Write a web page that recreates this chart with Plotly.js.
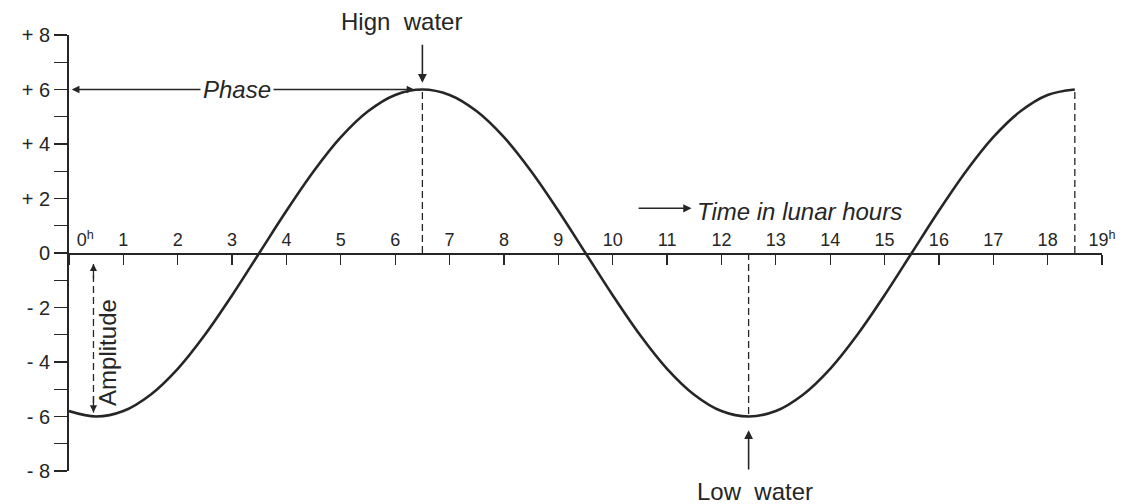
<!DOCTYPE html>
<html>
<head>
<meta charset="utf-8">
<script src="https://cdn.plot.ly/plotly-3.0.1.min.js"></script>
<style>
  html, body { margin: 0; padding: 0; background: #fff; }
  #chart { width: 1132px; height: 504px; }
</style>
</head>
<body>
<div id="chart"></div>
<script>
// Tide height against time in lunar hours, read at half-hour steps
const hours = [0, 0.5, 1, 1.5, 2, 2.5, 3, 3.5, 4, 4.5, 5, 5.5, 6, 6.5, 7, 7.5, 8, 8.5, 9, 9.5,
               10, 10.5, 11, 11.5, 12, 12.5, 13, 13.5, 14, 14.5, 15, 15.5, 16, 16.5, 17, 17.5, 18, 18.5];
const height = [-5.8, -6.0, -5.8, -5.2, -4.25, -3.0, -1.55, 0, 1.55, 3.0, 4.25, 5.2, 5.8, 6.0, 5.8, 5.2, 4.25, 3.0, 1.55, 0,
                -1.55, -3.0, -4.25, -5.2, -5.8, -6.0, -5.8, -5.2, -4.25, -3.0, -1.55, 0, 1.55, 3.0, 4.25, 5.2, 5.8, 6.0];

// Turning points of the tide: high water, low water, next high water
const turnTimes = [6.5, 12.5, 18.5];
const turnHeights = [6.0, -6.0, 6.0];

// First low water, where the amplitude is measured
const amplitudeTime = 0.45;
const amplitudeHeight = -6.0;

const xTickVals = [0, 1, 2, 3, 4, 5, 6, 7, 8, 9, 10, 11, 12, 13, 14, 15, 16, 17, 18, 19];
const xTickText = ['0<sup>h</sup>', '1', '2', '3', '4', '5', '6', '7', '8', '9',
                   '10', '11', '12', '13', '14', '15', '16', '17', '18', '19<sup>h</sup>'];
const yTickVals = [-8, -6, -4, -2, 0, 2, 4, 6, 8];
const yTickText = ['- 8', '- 6', '- 4', '- 2', '0', '+ 2', '+ 4', '+ 6', '+ 8'];

const ink = '#262626';
const face = 'Liberation Sans, Arial, sans-serif';
const tickFont = { family: face, size: 18, color: ink };
const noteFont = { family: face, size: 24, color: ink };

// The origin label sits just right of the height axis instead of on it
const xLabelVals = xTickVals.map(v => (v === 0 ? v + 0.3 : v));

const curve = {
  x: hours, y: height,
  type: 'scatter', mode: 'lines',
  line: { color: ink, width: 2.6, shape: 'spline', smoothing: 1 },
  cliponaxis: false, hoverinfo: 'skip', showlegend: false
};

// Carrier for the labelled copy of the time axis (draws nothing)
const labelCarrier = {
  x: [xTickVals[0], xTickVals[xTickVals.length - 1]], y: [0, 0],
  xaxis: 'x2', yaxis: 'y', type: 'scatter', mode: 'none',
  hoverinfo: 'skip', showlegend: false
};

// Dashed drop lines from each turning point to the time axis
const shapes = turnTimes.map((t, i) => ({
  type: 'line', xref: 'x', yref: 'y',
  x0: t, x1: t, y0: 0, y1: turnHeights[i],
  line: { color: ink, width: 1.3, dash: '7px,4px' }
}));
shapes.push({
  type: 'line', xref: 'x', yref: 'y',
  x0: amplitudeTime, x1: amplitudeTime, y0: -0.4, y1: amplitudeHeight + 0.15,
  line: { color: ink, width: 1.3, dash: '7px,4px' }
});

function arrow(x, y, ax, ay, extra) {
  return Object.assign({
    x: x, y: y, ax: ax, ay: ay, xref: 'x', yref: 'y', axref: 'x', ayref: 'y',
    text: '', showarrow: true, arrowhead: 2, arrowsize: 1.1, arrowwidth: 1.6, arrowcolor: ink
  }, extra || {});
}

const annotations = [
  // Phase: from the time origin to the first high water
  arrow(0.05, turnHeights[0], turnTimes[0] - 0.12, turnHeights[0], { arrowside: 'end+start', arrowwidth: 1.4 }),
  { x: 3.09, y: turnHeights[0], xref: 'x', yref: 'y', text: '<i>Phase</i>', showarrow: false,
    bgcolor: '#ffffff', borderpad: 2, font: noteFont },

  // High water
  arrow(turnTimes[0], turnHeights[0] + 0.25, turnTimes[0], 7.7),
  { x: 6.12, y: 1.03, xref: 'x', yref: 'paper', yanchor: 'middle',
    text: 'Hign  water', showarrow: false, font: noteFont },

  // Low water
  arrow(turnTimes[1], turnHeights[1] - 0.5, turnTimes[1], -8.0),
  { x: 12.62, y: -0.046, xref: 'x', yref: 'paper', yanchor: 'middle',
    text: 'Low  water', showarrow: false, font: noteFont },

  // Time axis caption
  arrow(11.45, 1.64, 10.45, 1.64, { arrowwidth: 1.5 }),
  { x: 11.52, y: 1.52, xref: 'x', yref: 'y', xanchor: 'left', text: '<i>Time in lunar hours</i>',
    showarrow: false, font: noteFont },

  // Amplitude: double-headed arrow from mean level down to low water
  arrow(amplitudeTime, -0.4, amplitudeTime, -1.0, { arrowwidth: 1.3 }),
  arrow(amplitudeTime, amplitudeHeight + 0.15, amplitudeTime, -5.2, { arrowwidth: 1.3 }),
  { x: 0.72, y: -3.66, xref: 'x', yref: 'y', text: 'Amplitude', textangle: -90, showarrow: false, font: noteFont }
];

const layout = {
  width: 1132, height: 504,
  margin: { l: 69, r: 30, t: 35, b: 33, pad: 0 },
  paper_bgcolor: '#ffffff', plot_bgcolor: '#ffffff',
  font: tickFont,
  showlegend: false,
  // Time axis drawn through zero: line and downward ticks
  xaxis: {
    range: [0, 19], anchor: 'free', position: 0.5, side: 'bottom',
    showline: true, linecolor: ink, linewidth: 1.8,
    showgrid: false, zeroline: false,
    tickmode: 'array', tickvals: xTickVals,
    ticks: 'outside', ticklen: 10, tickwidth: 1.3, tickcolor: ink,
    showticklabels: false,
    fixedrange: true
  },
  // Same time axis, carrying the hour labels above the line
  xaxis2: {
    range: [0, 19], overlaying: 'x', anchor: 'free', position: 0.5, side: 'top',
    showline: false, showgrid: false, zeroline: false,
    tickmode: 'array', tickvals: xLabelVals, ticktext: xTickText,
    ticks: '', ticklabelstandoff: 3,
    tickfont: tickFont,
    fixedrange: true
  },
  yaxis: {
    range: [-8, 8],
    showline: true, linecolor: ink, linewidth: 1.8,
    showgrid: false, zeroline: false,
    tickmode: 'array', tickvals: yTickVals, ticktext: yTickText,
    ticks: 'outside', ticklen: 13, tickwidth: 1.3, tickcolor: ink,
    minor: { dtick: 1, ticks: 'outside', ticklen: 13, tickwidth: 1.3, tickcolor: ink, showgrid: false },
    tickfont: { family: face, size: 20, color: ink },
    fixedrange: true
  },
  shapes: shapes,
  annotations: annotations
};

Plotly.newPlot('chart', [curve, labelCarrier], layout, { staticPlot: true, displayModeBar: false });
</script>
</body>
</html>
